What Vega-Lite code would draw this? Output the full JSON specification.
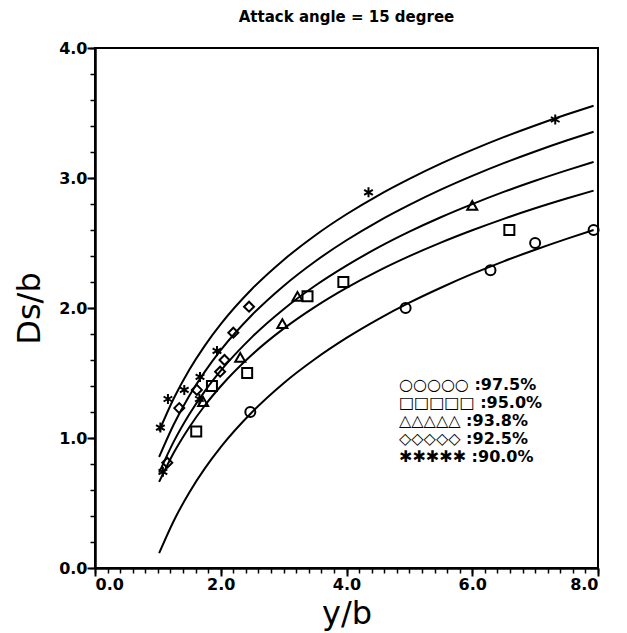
{
  "$schema": "https://vega.github.io/schema/vega-lite/v6.json",
  "width": 503,
  "height": 520,
  "autosize": {"type": "none"},
  "padding": {"left": 95, "top": 48, "right": 29, "bottom": 65},
  "title": {"text": "Attack angle = 15 degree", "font": "DejaVu Sans", "fontSize": 15, "fontWeight": "bold", "offset": 15, "anchor": "middle", "color": "black"},
  "config": {
    "view": {"stroke": "black", "strokeWidth": 2},
    "axis": {"domainColor": "black", "domainWidth": 2, "tickColor": "black", "labelColor": "black", "titleColor": "black", "grid": false}
  },
  "datasets": {
    "curves": [
      {"series": "90.0%", "x": 1.02, "y": 1.054}, {"series": "90.0%", "x": 1.25, "y": 1.302}, {"series": "90.0%", "x": 1.5, "y": 1.525}, {"series": "90.0%", "x": 1.75, "y": 1.713}, {"series": "90.0%", "x": 2, "y": 1.876}, {"series": "90.0%", "x": 2.5, "y": 2.148}, {"series": "90.0%", "x": 3, "y": 2.37}, {"series": "90.0%", "x": 3.5, "y": 2.558}, {"series": "90.0%", "x": 4, "y": 2.721}, {"series": "90.0%", "x": 4.5, "y": 2.865}, {"series": "90.0%", "x": 5, "y": 2.993}, {"series": "90.0%", "x": 5.5, "y": 3.11}, {"series": "90.0%", "x": 6, "y": 3.216}, {"series": "90.0%", "x": 6.5, "y": 3.314}, {"series": "90.0%", "x": 7, "y": 3.404}, {"series": "90.0%", "x": 7.5, "y": 3.488}, {"series": "90.0%", "x": 7.93, "y": 3.556},
      {"series": "92.5%", "x": 1.02, "y": 0.854}, {"series": "92.5%", "x": 1.25, "y": 1.102}, {"series": "92.5%", "x": 1.5, "y": 1.325}, {"series": "92.5%", "x": 1.75, "y": 1.513}, {"series": "92.5%", "x": 2, "y": 1.676}, {"series": "92.5%", "x": 2.5, "y": 1.948}, {"series": "92.5%", "x": 3, "y": 2.17}, {"series": "92.5%", "x": 3.5, "y": 2.358}, {"series": "92.5%", "x": 4, "y": 2.521}, {"series": "92.5%", "x": 4.5, "y": 2.665}, {"series": "92.5%", "x": 5, "y": 2.793}, {"series": "92.5%", "x": 5.5, "y": 2.91}, {"series": "92.5%", "x": 6, "y": 3.016}, {"series": "92.5%", "x": 6.5, "y": 3.114}, {"series": "92.5%", "x": 7, "y": 3.204}, {"series": "92.5%", "x": 7.5, "y": 3.288}, {"series": "92.5%", "x": 7.93, "y": 3.356},
      {"series": "93.8%", "x": 1.02, "y": 0.733}, {"series": "93.8%", "x": 1.25, "y": 0.97}, {"series": "93.8%", "x": 1.5, "y": 1.183}, {"series": "93.8%", "x": 1.75, "y": 1.363}, {"series": "93.8%", "x": 2, "y": 1.518}, {"series": "93.8%", "x": 2.5, "y": 1.778}, {"series": "93.8%", "x": 3, "y": 1.991}, {"series": "93.8%", "x": 3.5, "y": 2.171}, {"series": "93.8%", "x": 4, "y": 2.326}, {"series": "93.8%", "x": 4.5, "y": 2.464}, {"series": "93.8%", "x": 5, "y": 2.587}, {"series": "93.8%", "x": 5.5, "y": 2.698}, {"series": "93.8%", "x": 6, "y": 2.799}, {"series": "93.8%", "x": 6.5, "y": 2.893}, {"series": "93.8%", "x": 7, "y": 2.979}, {"series": "93.8%", "x": 7.5, "y": 3.059}, {"series": "93.8%", "x": 7.93, "y": 3.124},
      {"series": "95.0%", "x": 1.02, "y": 0.662}, {"series": "95.0%", "x": 1.25, "y": 0.884}, {"series": "95.0%", "x": 1.5, "y": 1.083}, {"series": "95.0%", "x": 1.75, "y": 1.252}, {"series": "95.0%", "x": 2, "y": 1.398}, {"series": "95.0%", "x": 2.5, "y": 1.642}, {"series": "95.0%", "x": 3, "y": 1.841}, {"series": "95.0%", "x": 3.5, "y": 2.009}, {"series": "95.0%", "x": 4, "y": 2.155}, {"series": "95.0%", "x": 4.5, "y": 2.284}, {"series": "95.0%", "x": 5, "y": 2.399}, {"series": "95.0%", "x": 5.5, "y": 2.503}, {"series": "95.0%", "x": 6, "y": 2.598}, {"series": "95.0%", "x": 6.5, "y": 2.686}, {"series": "95.0%", "x": 7, "y": 2.767}, {"series": "95.0%", "x": 7.5, "y": 2.842}, {"series": "95.0%", "x": 7.93, "y": 2.903},
      {"series": "97.5%", "x": 1.02, "y": 0.114}, {"series": "97.5%", "x": 1.25, "y": 0.36}, {"series": "97.5%", "x": 1.5, "y": 0.581}, {"series": "97.5%", "x": 1.75, "y": 0.768}, {"series": "97.5%", "x": 2, "y": 0.93}, {"series": "97.5%", "x": 2.5, "y": 1.2}, {"series": "97.5%", "x": 3, "y": 1.422}, {"series": "97.5%", "x": 3.5, "y": 1.608}, {"series": "97.5%", "x": 4, "y": 1.77}, {"series": "97.5%", "x": 4.5, "y": 1.913}, {"series": "97.5%", "x": 5, "y": 2.041}, {"series": "97.5%", "x": 5.5, "y": 2.156}, {"series": "97.5%", "x": 6, "y": 2.262}, {"series": "97.5%", "x": 6.5, "y": 2.359}, {"series": "97.5%", "x": 7, "y": 2.448}, {"series": "97.5%", "x": 7.5, "y": 2.532}, {"series": "97.5%", "x": 7.93, "y": 2.6}
    ],
    "points": [
      {"series": "90.0%", "x": 1.04, "y": 1.08}, {"series": "90.0%", "x": 1.16, "y": 1.3}, {"series": "90.0%", "x": 1.42, "y": 1.37}, {"series": "90.0%", "x": 1.67, "y": 1.47}, {"series": "90.0%", "x": 1.94, "y": 1.67}, {"series": "90.0%", "x": 1.66, "y": 1.3}, {"series": "90.0%", "x": 4.35, "y": 2.89}, {"series": "90.0%", "x": 7.32, "y": 3.45}, {"series": "90.0%", "x": 1.08, "y": 0.74},
      {"series": "92.5%", "x": 1.34, "y": 1.23}, {"series": "92.5%", "x": 1.62, "y": 1.37}, {"series": "92.5%", "x": 1.99, "y": 1.51}, {"series": "92.5%", "x": 2.06, "y": 1.6}, {"series": "92.5%", "x": 2.2, "y": 1.81}, {"series": "92.5%", "x": 2.45, "y": 2.01}, {"series": "92.5%", "x": 1.15, "y": 0.81},
      {"series": "93.8%", "x": 1.72, "y": 1.28}, {"series": "93.8%", "x": 2.31, "y": 1.62}, {"series": "93.8%", "x": 2.98, "y": 1.88}, {"series": "93.8%", "x": 3.22, "y": 2.09}, {"series": "93.8%", "x": 6.0, "y": 2.79},
      {"series": "95.0%", "x": 1.61, "y": 1.05}, {"series": "95.0%", "x": 1.86, "y": 1.4}, {"series": "95.0%", "x": 2.42, "y": 1.5}, {"series": "95.0%", "x": 3.38, "y": 2.09}, {"series": "95.0%", "x": 3.95, "y": 2.2}, {"series": "95.0%", "x": 6.59, "y": 2.6},
      {"series": "97.5%", "x": 2.47, "y": 1.2}, {"series": "97.5%", "x": 4.94, "y": 2.0}, {"series": "97.5%", "x": 6.29, "y": 2.29}, {"series": "97.5%", "x": 7.0, "y": 2.5}, {"series": "97.5%", "x": 7.93, "y": 2.6}
    ]
  },
  "layer": [
    {
      "data": {"name": "curves"},
      "mark": {"type": "line", "interpolate": "monotone", "color": "black", "strokeWidth": 2},
      "encoding": {
        "x": {"field": "x", "type": "quantitative", "scale": {"domain": [0, 8], "nice": false, "zero": false},
              "axis": {"orient": "bottom", "values": [0,0.2,0.4,0.6,0.8,1,1.2,1.4,1.6,1.8,2,2.2,2.4,2.6,2.8,3,3.2,3.4,3.6,3.8,4,4.2,4.4,4.6,4.8,5,5.2,5.4,5.6,5.8,6,6.2,6.4,6.6,6.8,7,7.2,7.4,7.6,7.8,8], "labels": false, "title": null, "tickSize": 5, "tickWidth": 1.5}},
        "y": {"field": "y", "type": "quantitative", "scale": {"domain": [0, 4], "nice": false, "zero": false},
              "axis": {"orient": "left", "values": [0,0.2,0.4,0.6,0.8,1,1.2,1.4,1.6,1.8,2,2.2,2.4,2.6,2.8,3,3.2,3.4,3.6,3.8,4], "labels": false, "title": null, "tickSize": 5, "tickWidth": 1.5}},
        "detail": {"field": "series", "type": "nominal"}
      }
    },
    {
      "data": {"name": "points"},
      "mark": {"type": "point", "filled": false, "color": "black", "strokeWidth": 2, "size": 100, "opacity": 1},
      "encoding": {
        "x": {"field": "x", "type": "quantitative",
              "axis": {"orient": "bottom", "values": [0, 2, 4, 6, 8], "format": ".1f", "tickSize": 8, "tickWidth": 2, "labelPadding": 0, "labelFont": "DejaVu Sans", "labelFontWeight": "bold", "labelFontSize": 16, "title": "y/b", "titleFont": "DejaVu Sans", "titleFontWeight": "normal", "titleFontSize": 32, "titlePadding": 6}},
        "y": {"field": "y", "type": "quantitative",
              "axis": {"orient": "left", "values": [0, 1, 2, 3, 4], "format": ".1f", "tickSize": 8, "tickWidth": 2, "labelPadding": 0, "labelFont": "DejaVu Sans", "labelFontWeight": "bold", "labelFontSize": 16, "title": "Ds/b", "titleFont": "DejaVu Sans", "titleFontWeight": "normal", "titleFontSize": 32, "titlePadding": 12}},
        "shape": {"field": "series", "type": "nominal",
                  "scale": {"domain": ["97.5%", "95.0%", "93.8%", "92.5%", "90.0%"], "range": ["circle", "square", "triangle-up", "diamond", "M0,-1L0,1M-0.87,-0.5L0.87,0.5M-0.87,0.5L0.87,-0.5"]},
                  "legend": {"orient": "none", "legendX": 288, "legendY": 329, "title": null, "symbolSize": 0, "symbolOpacity": 0, "symbolStrokeWidth": 0, "labelOffset": 0, "rowPadding": 2, "labelFont": "DejaVu Sans", "labelFontWeight": "bold", "labelFontSize": 16, "labelColor": "black", "labelLimit": 300,
                             "labelExpr": "datum.label == '97.5%' ? '○○○○○ :97.5%' : datum.label == '95.0%' ? '□□□□□ :95.0%' : datum.label == '93.8%' ? '△△△△△ :93.8%' : datum.label == '92.5%' ? '◇◇◇◇◇ :92.5%' : '✱✱✱✱✱ :90.0%'"}}
      }
    }
  ],
  "resolve": {"axis": {"x": "independent", "y": "independent"}}
}
